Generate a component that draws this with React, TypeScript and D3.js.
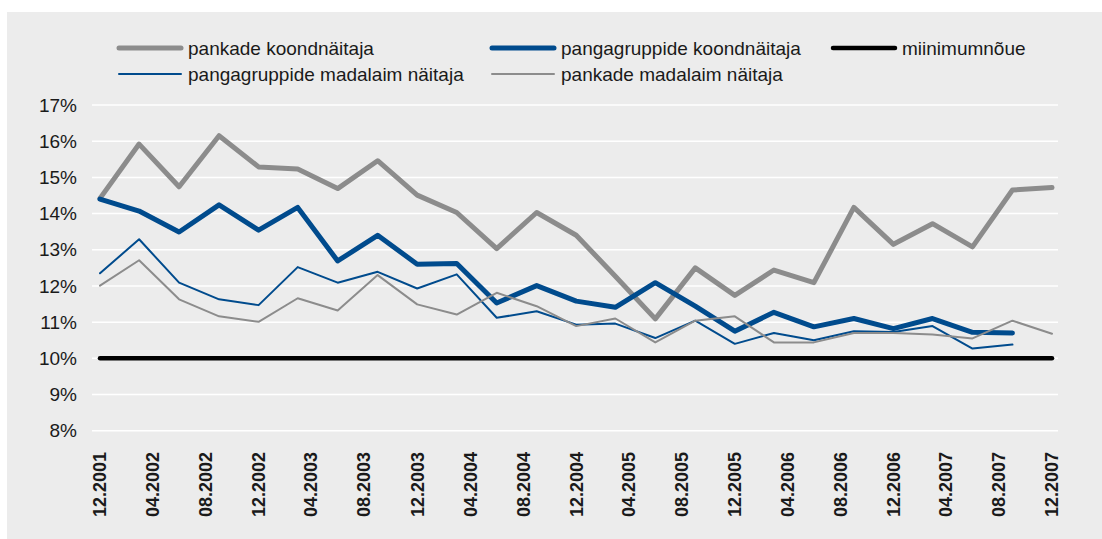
import * as d3 from "d3";

const W = 1102;
const H = 539;

// quarter-end observations, 12.2001 … 12.2007
const quarters = [
  "12.2001", "03.2002", "06.2002", "09.2002", "12.2002", "03.2003", "06.2003",
  "09.2003", "12.2003", "03.2004", "06.2004", "09.2004", "12.2004", "03.2005",
  "06.2005", "09.2005", "12.2005", "03.2006", "06.2006", "09.2006", "12.2006",
  "03.2007", "06.2007", "09.2007", "12.2007",
];

const tickLabels = [
  "12.2001", "04.2002", "08.2002", "12.2002", "04.2003", "08.2003", "12.2003",
  "04.2004", "08.2004", "12.2004", "04.2005", "08.2005", "12.2005", "04.2006",
  "08.2006", "12.2006", "04.2007", "08.2007", "12.2007",
];

const pankadeKoond = [
  14.42, 15.92, 14.74, 16.15, 15.29, 15.23, 14.69, 15.46, 14.51, 14.03, 13.03,
  14.03, 13.4, 12.27, 11.09, 12.5, 11.74, 12.44, 12.09, 14.17, 13.15, 13.72,
  13.08, 14.65, 14.72,
];
const pangagruppideKoond = [
  14.4, 14.07, 13.49, 14.24, 13.54, 14.17, 12.69, 13.4, 12.6, 12.62, 11.53,
  12.01, 11.58, 11.41, 12.09, 11.44, 10.75, 11.27, 10.87, 11.1, 10.82, 11.1,
  10.72, 10.7, null,
];
const miinimum = quarters.map(() => 10);
const pangagruppideMadalaim = [
  12.35, 13.29, 12.09, 11.63, 11.47, 12.52, 12.09, 12.39, 11.93, 12.32, 11.12,
  11.3, 10.93, 10.96, 10.56, 11.04, 10.4, 10.7, 10.5, 10.75, 10.73, 10.89,
  10.27, 10.38, null,
];
const pankadeMadalaim = [
  12.01, 12.71, 11.63, 11.16, 11.01, 11.66, 11.32, 12.3, 11.49, 11.21, 11.81,
  11.44, 10.89, 11.1, 10.44, 11.04, 11.16, 10.44, 10.44, 10.7, 10.7, 10.66,
  10.55, 11.04, 10.68,
];

type Series = { name: string; values: (number | null)[]; color: string; width: number };

const series: Series[] = [
  { name: "pankade koondnäitaja", values: pankadeKoond, color: "#8c8c8c", width: 5 },
  { name: "pangagruppide koondnäitaja", values: pangagruppideKoond, color: "#004b8d", width: 5 },
  { name: "miinimumnõue", values: miinimum, color: "#000000", width: 4.5 },
  { name: "pangagruppide madalaim näitaja", values: pangagruppideMadalaim, color: "#004b8d", width: 2 },
  { name: "pankade madalaim näitaja", values: pankadeMadalaim, color: "#8c8c8c", width: 2 },
];

const FONT = "'Liberation Sans', Arial, Helvetica, sans-serif";
const parse = d3.utcParse("%m.%Y");

export default function App() {
  const dates = quarters.map((q) => parse(q) as Date);
  const x = d3.scaleUtc().domain([dates[0], dates[dates.length - 1]]).range([100, 1052]);
  const y = d3.scaleLinear().domain([8, 17]).range([430.7, 105]);

  const line = d3
    .line<number | null>()
    .defined((v) => v != null)
    .x((_, i) => x(dates[i]))
    .y((v) => y(v as number));

  // legend: 3 columns × 2 rows, filled row-wise in series order
  const legendCols = [118, 491, 832];
  const legendRows = [48, 74];

  return (
    <svg
      width={W}
      height={H}
      style={{ position: "absolute", left: 0, top: 0, background: "#fff" }}
      fontFamily={FONT}
    >
      <rect x={7} y={12} width={W - 7} height={H - 12} fill="#ececec" />

      {/* gridlines + y ticks */}
      {y.ticks(9).map((t) => (
        <g key={t} transform={`translate(0,${y(t)})`}>
          <line x1={92} x2={1058} stroke="#fff" strokeWidth={1.5} />
          <text x={77} dy="0.35em" fontSize={19} textAnchor="end" fill="#1a1a1a">
            {t}%
          </text>
        </g>
      ))}

      {/* x labels */}
      {tickLabels.map((l) => (
        <text
          key={l}
          transform={`translate(${x(parse(l) as Date)},452) rotate(-90)`}
          dy="0.35em"
          fontSize={18}
          fontWeight="bold"
          textAnchor="end"
          fill="#1a1a1a"
        >
          {l}
        </text>
      ))}

      {/* series */}
      {series.map((s) => (
        <path
          key={s.name}
          d={line(s.values) ?? ""}
          fill="none"
          stroke={s.color}
          strokeWidth={s.width}
          strokeLinejoin="round"
          strokeLinecap="round"
        />
      ))}

      {/* legend */}
      {series.map((s, i) => {
        const cx = legendCols[i % 3];
        const cy = legendRows[Math.floor(i / 3)];
        return (
          <g key={s.name} transform={`translate(${cx},${cy})`}>
            <line x1={1} x2={63} stroke={s.color} strokeWidth={s.width} strokeLinecap="round" />
            <text x={70} dy="0.35em" fontSize={19} fill="#1a1a1a">
              {s.name}
            </text>
          </g>
        );
      })}
    </svg>
  );
}
